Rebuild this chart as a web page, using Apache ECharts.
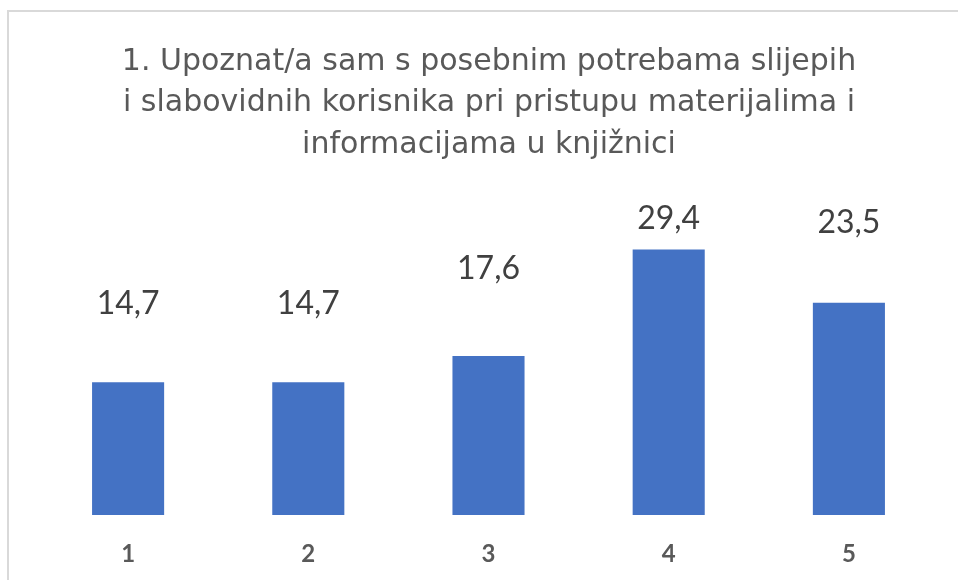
<!DOCTYPE html>
<html>
<head>
<meta charset="utf-8">
<script src="https://cdn.jsdelivr.net/npm/echarts@6/dist/echarts.min.js"></script>
<style>html,body{margin:0;padding:0;background:#fff;}#c{width:958px;height:580px;}</style>
</head>
<body>
<div id="c"></div>
<script>
const titleText = '1. Upoznat/a sam s posebnim potrebama slijepih\ni slabovidnih korisnika pri pristupu materijalima i\ninformacijama u knjižnici';
const categories = ['1', '2', '3', '4', '5'];
const values = [14.7, 14.7, 17.6, 29.4, 23.5];
const valueLabels = ['14,7', '14,7', '17,6', '29,4', '23,5'];
const labelOffsets = [-63, -63, -71, -15, -64];

const chart = echarts.init(document.getElementById('c'));
chart.setOption({
  backgroundColor: '#fff',
  animation: false,
  graphic: [{
    type: 'rect', shape: {x: 8, y: 11, width: 1000, height: 600},
    style: {fill: 'none', stroke: '#d9d9d9', lineWidth: 2}, silent: true, z: -1
  }],
  title: {
    text: titleText,
    left: 489,
    top: 41,
    padding: 0,
    textAlign: 'center',
    textStyle: {fontFamily: 'DejaVu Sans', fontSize: 30, fontWeight: 'normal', color: '#595959', lineHeight: 41.5}
  },
  grid: {left: 38, right: 19, top: 199, bottom: 65, containLabel: false},
  xAxis: {
    type: 'category', data: categories,
    axisLine: {show: false}, axisTick: {show: false},
    axisLabel: {fontFamily: 'Lato', fontSize: 24, fontWeight: 'bold', color: '#595959', margin: 27}
  },
  yAxis: {type: 'value', min: 0, max: 35, show: false, splitLine: {show: false}},
  series: [{
    type: 'bar',
    barWidth: '40%',
    itemStyle: {color: '#4472C4'},
    data: values.map((v, i) => ({
      value: v,
      label: {
        show: true, position: 'top', distance: 0, offset: [0, labelOffsets[i]],
        formatter: valueLabels[i],
        fontFamily: 'Lato', fontSize: 32, lineHeight: 32, color: '#404040'
      }
    }))
  }]
});
</script>
</body>
</html>
